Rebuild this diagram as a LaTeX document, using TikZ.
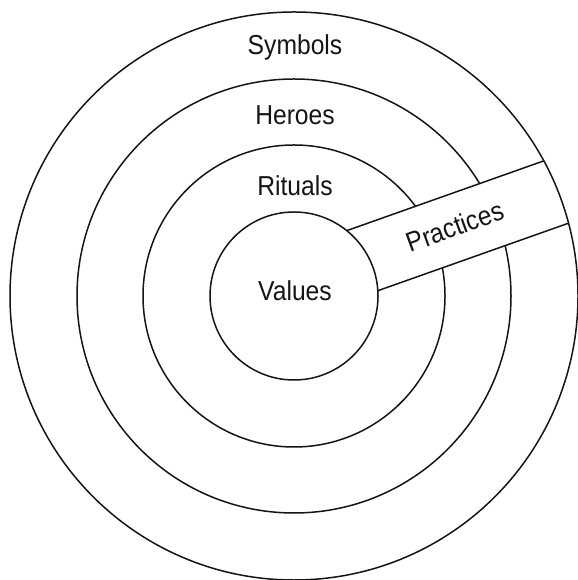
\documentclass[tikz,border=0pt]{standalone}
\usepackage{fontspec}
\setmainfont[FakeStretch=0.9]{Liberation Sans}
\usetikzlibrary{calc}

\begin{document}
\begin{tikzpicture}[x=1bp,y=1bp]
    \definecolor{ringcolor}{HTML}{151515}
    \tikzset{
        ring/.style={draw=ringcolor,line width=1.5bp},
        ringlabel/.style={anchor=base,inner sep=0pt,text=ringcolor,font=\fontsize{27.5}{32}\selectfont}
    }
    \useasboundingbox (0,0) rectangle (578,580);
    \fill[white] (0,0) rectangle (578,580);
    \coordinate (centre) at (294,284);
    \draw[ring] (centre) circle (217bp);
    \draw[ring] (centre) circle (151bp);
    % band for the practices
    \begin{scope}[shift={(centre)},rotate=19.5]
        \fill[white] (60,-23) rectangle (300,44);
        \coordinate (bandtopin) at (71.5,44);
        \coordinate (bandtopout) at (280.6,44);
        \coordinate (bandlowin) at (80.8,-23);
        \coordinate (bandlowout) at (283.1,-23);
        \coordinate (bandmid) at (175,12);
    \end{scope}
    \draw[ring] (centre) circle (284bp);
    \draw[ring,fill=white] (centre) circle (84bp);
    \draw[ring] (bandtopin) -- (bandtopout);
    \draw[ring] (bandlowin) -- (bandlowout);
    % labels
    \node[ringlabel] (symbols) at (295,525) {Symbols};
    \node[ringlabel] (heroes) at (295,455) {Heroes};
    \node[ringlabel] (rituals) at (295,384) {Rituals};
    \node[ringlabel] (values) at (295,279) {Values};
    \node[ringlabel,anchor=center,rotate=20] (practices) at (bandmid) {Practices};
\end{tikzpicture}
\end{document}
